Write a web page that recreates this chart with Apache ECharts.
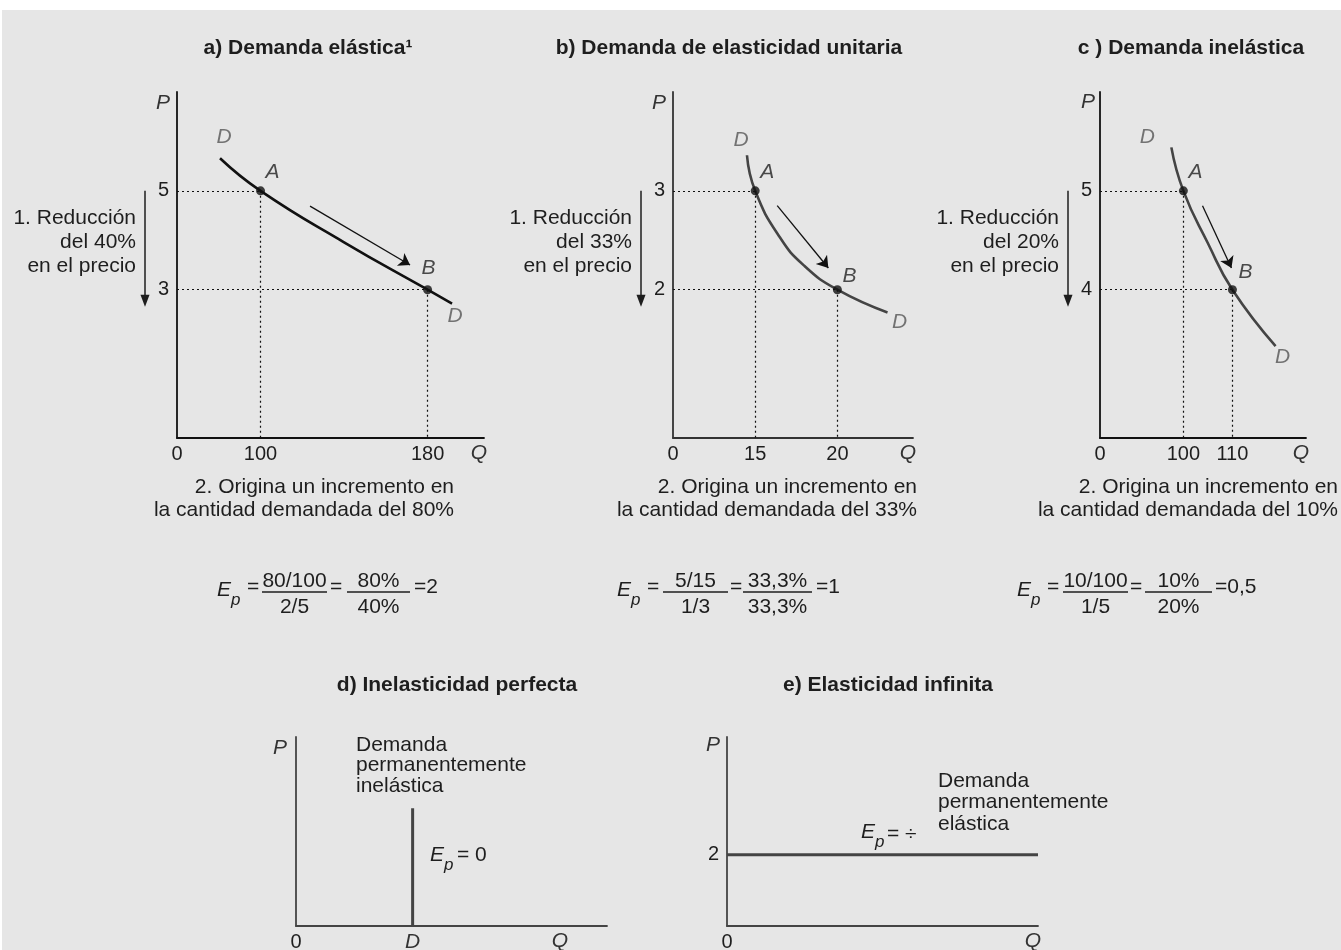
<!DOCTYPE html>
<html>
<head>
<meta charset="utf-8">
<script src="https://cdn.jsdelivr.net/npm/echarts@6/dist/echarts.min.js"></script>
<style>
html,body{margin:0;padding:0;background:#fff;}
#bg{position:absolute;left:2px;top:10px;width:1339px;height:940px;background:#e6e6e6;}
#chart{position:absolute;left:0;top:0;width:1341px;height:950px;}
</style>
</head>
<body>
<div id="bg"></div>
<div id="chart"></div>
<script>
// ---------------- DATA ----------------
const titles = ['a) Demanda elástica¹', 'b) Demanda de elasticidad unitaria', 'c ) Demanda inelástica',
                'd) Inelasticidad perfecta', 'e) Elasticidad infinita'];

// demand curves (Q, P)
const curveA = [[80.6, 5.66], [100, 5], [140, 3.96], [180, 3], [191.7, 2.72]];
const curveB = [[14.5, 3.36], [15, 3.0], [16.5, 2.53], [18, 2.24], [20, 2.0], [23.05, 1.77]];
const curveC = [[97.55, 5.44], [100, 5], [105, 4.47], [110, 4], [118.8, 3.43]];

// points A and B
const pointsA = [[100, 5], [180, 3]];
const pointsB = [[15, 3], [20, 2]];
const pointsC = [[100, 5], [110, 4]];
const pointLabels = ['A', 'B'];

// movement arrows along the curves
const arrowA = [[123.7, 4.69], [171.6, 3.50]];
const arrowB = [[16.34, 2.85], [19.45, 2.22]];
const arrowC = [[103.9, 4.85], [109.8, 4.22]];

// tick labels
const qTicksA = [100, 180], pTicksA = [3, 5];
const qTicksB = [15, 20],   pTicksB = [2, 3];
const qTicksC = [100, 110], pTicksC = [4, 5];
const qTicksD = [3];        // labelled "D"
const pTicksE = [2];

// lower panels
const lineD = [[3, 0], [3, 3.3]];
const lineE = [[0, 2], [8, 2]];

// texts
const priceTextA = ['1. Reducción', 'del 40%', 'en el precio'];
const priceTextB = ['1. Reducción', 'del 33%', 'en el precio'];
const priceTextC = ['1. Reducción', 'del 20%', 'en el precio'];
const qtyTextA = ['2. Origina un incremento en', 'la cantidad demandada del 80%'];
const qtyTextB = ['2. Origina un incremento en', 'la cantidad demandada del 33%'];
const qtyTextC = ['2. Origina un incremento en', 'la cantidad demandada del 10%'];
const eqA = ['80/100', '2/5', '80%', '40%', '2'];
const eqB = ['5/15', '1/3', '33,3%', '33,3%', '1'];
const eqC = ['10/100', '1/5', '10%', '20%', '0,5'];
const textD = ['Demanda', 'permanentemente', 'inelástica'];
const textE = ['Demanda', 'permanentemente', 'elástica'];
const epD = '= 0';
const epE = '= ÷';

// ---------------- LAYOUT / STYLE ----------------
const FONT = "'Liberation Sans', Arial, Helvetica, sans-serif";
const INK = '#1e1e1e';
const FS = 21;

const panels = [
  { grid: {left: 177, top: 92, width: 307, height: 346}, x: [60, 207], y: [0, 7],
    axisColor: '#111', curveColor: '#111', qTicks: qTicksA, pTicks: pTicksA,
    curve: curveA, pts: pointsA, arrow: arrowA,
    dOff: [[4, -21], [3, 13]], ptOff: [[12, -19], [1, -22]], qGap: -5, pGap: -11, pPad: 7,
    title: [308, 48], priceText: priceTextA, qtyText: qtyTextA, qtyRight: 454, eq: eqA,
    eqPos: {E: 217, eq1: 247, f1: [262, 327], eq2: 330, f2: [347, 410], eq3: 414} },
  { grid: {left: 673, top: 92, width: 240, height: 346}, x: [10, 24.6], y: [0.5, 4],
    axisColor: '#333', curveColor: '#444', qTicks: qTicksB, pTicks: pTicksB,
    curve: curveB, pts: pointsB, arrow: arrowB,
    dOff: [[-6, -15], [12, 10]], ptOff: [[12, -19], [12, -14]], qGap: -5, pGap: -11, pPad: 7,
    title: [729, 48], priceText: priceTextB, qtyText: qtyTextB, qtyRight: 917, eq: eqB,
    eqPos: {E: 617, eq1: 647, f1: [663, 728], eq2: 730, f2: [743, 812], eq3: 816} },
  { grid: {left: 1100, top: 92, width: 206, height: 346}, x: [83, 125], y: [2.5, 6],
    axisColor: '#111', curveColor: '#444', qTicks: qTicksC, pTicks: pTicksC,
    curve: curveC, pts: pointsC, arrow: arrowC,
    dOff: [[-24, -10], [7, 11]], ptOff: [[12, -19], [13, -18]], qGap: -5, pGap: -10, pPad: 5,
    title: [1191, 48], priceText: priceTextC, qtyText: qtyTextC, qtyRight: 1338, eq: eqC,
    eqPos: {E: 1017, eq1: 1047, f1: [1063, 1128], eq2: 1130, f2: [1145, 1212], eq3: 1215} }
];
const lowerPanels = [
  { grid: {left: 296, top: 737, width: 311, height: 189}, x: [0, 8], y: [0, 5.3], qGap: -47, pGap: -11, pPad: 9, title: [457, 685] },
  { grid: {left: 727, top: 737, width: 311, height: 189}, x: [0, 8], y: [0, 5.3], qGap: -5, pGap: -8, pPad: 7, title: [888, 685] }
];

const chart = echarts.init(document.getElementById('chart'), null, {renderer: 'canvas'});

const labelStyle = {color: INK, fontSize: 20, fontFamily: FONT};
const italicName = {fontStyle: 'italic', fontSize: FS, color: '#333', fontFamily: FONT};

function xAxisOf(i, p, customValues, formatter, color) {
  return {
    gridIndex: i, type: 'value', min: p.x[0], max: p.x[1],
    axisLine: {show: true, onZero: false, lineStyle: {color: color, width: 1.8}},
    axisTick: {show: false}, splitLine: {show: false},
    axisLabel: Object.assign({show: true, customValues: customValues, formatter: formatter, margin: 6,
      rich: {i: {fontStyle: 'italic', fontSize: FS, color: '#333', fontFamily: FONT}}}, labelStyle),
    name: 'Q', nameLocation: 'end', nameGap: p.qGap, nameMoveOverlap: false,
    nameTextStyle: Object.assign({align: 'center', verticalAlign: 'top', padding: [5, 0, 0, 0]}, italicName)
  };
}
function yAxisOf(i, p, customValues, color) {
  return {
    gridIndex: i, type: 'value', min: p.y[0], max: p.y[1],
    axisLine: {show: true, onZero: false, lineStyle: {color: color, width: 1.8}},
    axisTick: {show: false}, splitLine: {show: false},
    axisLabel: Object.assign({show: !!customValues, customValues: customValues || [], margin: 8}, labelStyle),
    name: 'P', nameLocation: 'end', nameGap: p.pGap, nameMoveOverlap: false,
    nameTextStyle: Object.assign({align: 'right', verticalAlign: 'middle', padding: [0, p.pPad, 0, 0]}, italicName)
  };
}

const grids = [], xAxes = [], yAxes = [], series = [];

panels.forEach((p, i) => {
  grids.push(Object.assign({containLabel: false, outerBoundsMode: 'none'}, p.grid));
  const xmin = p.x[0], ymin = p.y[0];
  xAxes.push(xAxisOf(i, p, [xmin].concat(p.qTicks), v => (v === xmin ? '0' : String(v)), p.axisColor));
  yAxes.push(yAxisOf(i, p, p.pTicks, p.axisColor));

  series.push({
    type: 'line', xAxisIndex: i, yAxisIndex: i, data: p.curve, smooth: 0.5,
    showSymbol: false, silent: true, animation: false, z: 3,
    lineStyle: {color: p.curveColor, width: 2.6}
  });
  series.push({
    type: 'scatter', xAxisIndex: i, yAxisIndex: i, symbolSize: 9, z: 6, silent: true, animation: false,
    itemStyle: {color: '#111'},
    data: p.pts.map((pt, k) => ({
      value: pt,
      label: {show: true, formatter: pointLabels[k], position: 'inside', offset: p.ptOff[k],
              fontStyle: 'italic', fontSize: FS, color: '#222', fontFamily: FONT}
    })),
    markLine: {
      silent: true, animation: false, symbol: ['none', 'none'], label: {show: false},
      lineStyle: {color: '#111', width: 1.2, type: [2, 3]},
      emphasis: {disabled: true},
      data: p.pts.flatMap(([x, y]) => [
        [{coord: [xmin, y]}, {coord: [x, y]}],
        [{coord: [x, y]}, {coord: [x, ymin]}]
      ])
    }
  });
  series.push({
    type: 'scatter', xAxisIndex: i, yAxisIndex: i, symbolSize: 1, silent: true, animation: false, z: 6,
    itemStyle: {color: 'rgba(0,0,0,0)'},
    data: [p.curve[0], p.curve[p.curve.length - 1]].map((pt, k) => ({
      value: pt,
      label: {show: true, formatter: 'D', position: 'inside', offset: p.dOff[k],
              fontStyle: 'italic', fontSize: FS, color: '#555', fontFamily: FONT}
    }))
  });
  series.push({
    type: 'lines', coordinateSystem: 'cartesian2d', xAxisIndex: i, yAxisIndex: i, silent: true, animation: false, z: 4,
    symbol: ['none', 'arrow'], symbolSize: [0, 11],
    lineStyle: {color: '#111', width: 1.3, opacity: 1, curveness: 0},
    data: [{coords: p.arrow}]
  });
});

// lower panels
lowerPanels.forEach((p, j) => {
  const i = j + 3;
  grids.push(Object.assign({containLabel: false, outerBoundsMode: 'none'}, p.grid));
  if (j === 0) {
    xAxes.push(xAxisOf(i, p, [0].concat(qTicksD), v => (v === 0 ? '0' : '{i|D}'), '#444'));
    yAxes.push(yAxisOf(i, p, null, '#444'));
    series.push({type: 'line', xAxisIndex: i, yAxisIndex: i, data: lineD, showSymbol: false, silent: true,
                 animation: false, lineStyle: {color: '#444', width: 3}});
  } else {
    xAxes.push(xAxisOf(i, p, [0], v => '0', '#444'));
    yAxes.push(yAxisOf(i, p, pTicksE, '#444'));
    series.push({type: 'line', xAxisIndex: i, yAxisIndex: i, data: lineE, showSymbol: false, silent: true,
                 animation: false, lineStyle: {color: '#444', width: 3}});
  }
});

chart.setOption({
  animation: false,
  textStyle: {fontFamily: FONT},
  grid: grids, xAxis: xAxes, yAxis: yAxes, series: series
});

// ---------------- ANNOTATIONS ----------------
const G = [];
function T(x, y, text, opts) {
  return {type: 'text', x: x, y: y, silent: true,
          style: Object.assign({text: text, fill: INK, fontSize: FS, fontFamily: FONT,
                                align: 'left', verticalAlign: 'middle'}, opts || {})};
}
const titleAnchors = panels.map(p => p.title).concat(lowerPanels.map(p => p.title));
titles.forEach((t, k) => G.push(T(titleAnchors[k][0], titleAnchors[k][1], t, {align: 'center', fontWeight: 'bold'})));

function epLabel(x, y) {
  G.push(T(x, y, 'E', {fontStyle: 'italic'}));
  G.push(T(x + 14, y + 10, 'p', {fontStyle: 'italic', fontSize: 17}));
}

panels.forEach((p, i) => {
  // price reduction text and arrow
  const top = chart.convertToPixel({gridIndex: i}, [p.x[0], p.pts[0][1]]);
  const bot = chart.convertToPixel({gridIndex: i}, [p.x[0], p.pts[1][1]]);
  const ax = top[0] - 32, y1 = top[1], y2 = bot[1] + 17;
  G.push({type: 'line', silent: true, shape: {x1: ax, y1: y1, x2: ax, y2: y2 - 9}, style: {stroke: INK, lineWidth: 1.5}});
  G.push({type: 'polygon', silent: true, shape: {points: [[ax - 4.5, y2 - 12], [ax + 4.5, y2 - 12], [ax, y2]]}, style: {fill: INK}});
  G.push(T(top[0] - 41, 242, p.priceText.join('\n'), {align: 'right', lineHeight: 24}));
  // quantity text
  G.push(T(p.qtyRight, 499, p.qtyText.join('\n'), {align: 'right', lineHeight: 23}));
  // equation
  const e = p.eqPos, yl = 592;
  epLabel(e.E, yl - 2);
  G.push(T(e.eq1, yl - 5, '='));
  [[e.f1, p.eq[0], p.eq[1]], [e.f2, p.eq[2], p.eq[3]]].forEach(([f, num, den]) => {
    G.push({type: 'line', silent: true, shape: {x1: f[0], y1: yl, x2: f[1], y2: yl}, style: {stroke: INK, lineWidth: 1.3}});
    G.push(T((f[0] + f[1]) / 2, yl - 11, num, {align: 'center'}));
    G.push(T((f[0] + f[1]) / 2, yl + 15, den, {align: 'center'}));
  });
  G.push(T(e.eq2, yl - 5, '='));
  G.push(T(e.eq3, yl - 5, '=' + p.eq[4]));
});

// lower panel texts
G.push(T(356, 765.5, textD.join('\n'), {lineHeight: 20.5}));
epLabel(430, 855);
G.push(T(457, 855, epD));
G.push(T(938, 802.5, textE.join('\n'), {lineHeight: 21.5}));
epLabel(861, 832);
G.push(T(887, 834, epE));

chart.setOption({graphic: G});
</script>
</body>
</html>
